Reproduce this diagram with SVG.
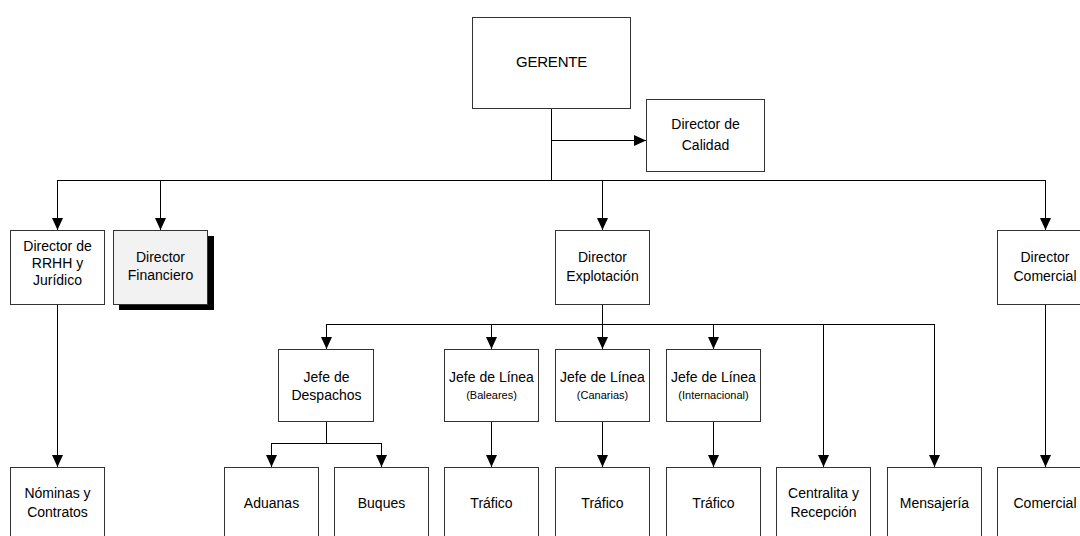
<svg xmlns="http://www.w3.org/2000/svg" width="1080" height="536" viewBox="0 0 1080 536">
<defs>
<marker id="arr" markerUnits="userSpaceOnUse" markerWidth="13" markerHeight="13" refX="12" refY="6.5" orient="auto">
<path d="M0,1 L12,6.5 L0,12 z" fill="#000"/>
</marker>
<style>
.box{fill:#fff;stroke:#333;stroke-width:1}
.t{font-family:"Liberation Sans",Arial,sans-serif;font-size:14px;fill:#000;text-anchor:middle}
.g{font-size:15px;letter-spacing:-0.2px}
.s{font-size:11px}
.ln{fill:none;stroke:#000;stroke-width:1}
.ar{fill:none;stroke:#000;stroke-width:1;marker-end:url(#arr)}
</style>
</defs>
<rect width="1080" height="536" fill="#fff"/>
<g id="connectors">
<path class="ln" d="M551.5,108 V180.5"/>
<path class="ar" d="M551.5,140.5 H646"/>
<path class="ln" d="M57.5,180.5 H1045.5"/>
<path class="ar" d="M57.5,180 V230"/>
<path class="ar" d="M160.5,180 V230"/>
<path class="ar" d="M602.5,180 V230"/>
<path class="ar" d="M1045.5,180 V230"/>
<path class="ln" d="M602.5,304 V324.5"/>
<path class="ln" d="M326.5,324.5 H934.5"/>
<path class="ar" d="M326.5,324 V349"/>
<path class="ar" d="M491.5,324 V349"/>
<path class="ar" d="M602.5,324 V349"/>
<path class="ar" d="M713.5,324 V349"/>
<path class="ar" d="M823.5,324 V467"/>
<path class="ar" d="M934.5,324 V467"/>
<path class="ln" d="M326.5,421 V443.5"/>
<path class="ln" d="M271.5,443.5 H381.5"/>
<path class="ar" d="M271.5,443 V467"/>
<path class="ar" d="M381.5,443 V467"/>
<path class="ar" d="M491.5,421 V467"/>
<path class="ar" d="M602.5,421 V467"/>
<path class="ar" d="M713.5,421 V467"/>
<path class="ar" d="M57.5,304 V467"/>
<path class="ar" d="M1045.5,304 V467"/>
</g>
<g id="gerente"><rect class="box" x="472.5" y="17.5" width="158" height="91"/><text class="t g" x="551.5" y="67">GERENTE</text></g>
<g id="calidad"><rect class="box" x="646.5" y="99.5" width="118" height="72"/><text class="t" x="705.5" y="129">Director de</text><text class="t" x="705.5" y="150">Calidad</text></g>
<g id="rrhh"><rect class="box" x="10.5" y="230.5" width="94" height="74"/><text class="t" x="57.5" y="251">Director de</text><text class="t" x="57.5" y="268">RRHH y</text><text class="t" x="57.5" y="285">Jurídico</text></g>
<g id="financiero"><rect x="119" y="236" width="95" height="74" fill="#000"/><rect x="113.5" y="230.5" width="94" height="74" fill="#f2f2f2" stroke="#333"/><text class="t" x="160.5" y="262">Director</text><text class="t" x="160.5" y="280">Financiero</text></g>
<g id="explotacion"><rect class="box" x="555.5" y="230.5" width="94" height="74"/><text class="t" x="602.5" y="262">Director</text><text class="t" x="602.5" y="281">Explotación</text></g>
<g id="dcomercial"><rect class="box" x="997.5" y="230.5" width="95" height="74"/><text class="t" x="1045" y="262">Director</text><text class="t" x="1045" y="281">Comercial</text></g>
<g id="despachos"><rect class="box" x="278.5" y="349.5" width="95" height="72"/><text class="t" x="326.5" y="382">Jefe de</text><text class="t" x="326.5" y="400">Despachos</text></g>
<g id="baleares"><rect class="box" x="444.5" y="349.5" width="94" height="72"/><text class="t" x="491.5" y="382">Jefe de Línea</text><text class="t s" x="491.5" y="399">(Baleares)</text></g>
<g id="canarias"><rect class="box" x="555.5" y="349.5" width="94" height="72"/><text class="t" x="602.5" y="382">Jefe de Línea</text><text class="t s" x="602.5" y="399">(Canarias)</text></g>
<g id="internacional"><rect class="box" x="666.5" y="349.5" width="94" height="72"/><text class="t" x="713.5" y="382">Jefe de Línea</text><text class="t s" x="713.5" y="399">(Internacional)</text></g>
<g id="nominas"><rect class="box" x="10.5" y="467.5" width="94" height="80"/><text class="t" x="57.5" y="498">Nóminas y</text><text class="t" x="57.5" y="517">Contratos</text></g>
<g id="aduanas"><rect class="box" x="224.5" y="467.5" width="94" height="80"/><text class="t" x="271.5" y="508">Aduanas</text></g>
<g id="buques"><rect class="box" x="334.5" y="467.5" width="94" height="80"/><text class="t" x="381.5" y="508">Buques</text></g>
<g id="trafico1"><rect class="box" x="444.5" y="467.5" width="94" height="80"/><text class="t" x="491.5" y="508">Tráfico</text></g>
<g id="trafico2"><rect class="box" x="555.5" y="467.5" width="94" height="80"/><text class="t" x="602.5" y="508">Tráfico</text></g>
<g id="trafico3"><rect class="box" x="666.5" y="467.5" width="94" height="80"/><text class="t" x="713.5" y="508">Tráfico</text></g>
<g id="centralita"><rect class="box" x="776.5" y="467.5" width="94" height="80"/><text class="t" x="823.5" y="498">Centralita y</text><text class="t" x="823.5" y="517">Recepción</text></g>
<g id="mensajeria"><rect class="box" x="887.5" y="467.5" width="94" height="80"/><text class="t" x="934.5" y="508">Mensajería</text></g>
<g id="comercial"><rect class="box" x="997.5" y="467.5" width="95" height="80"/><text class="t" x="1045" y="508">Comercial</text></g>
</svg>
